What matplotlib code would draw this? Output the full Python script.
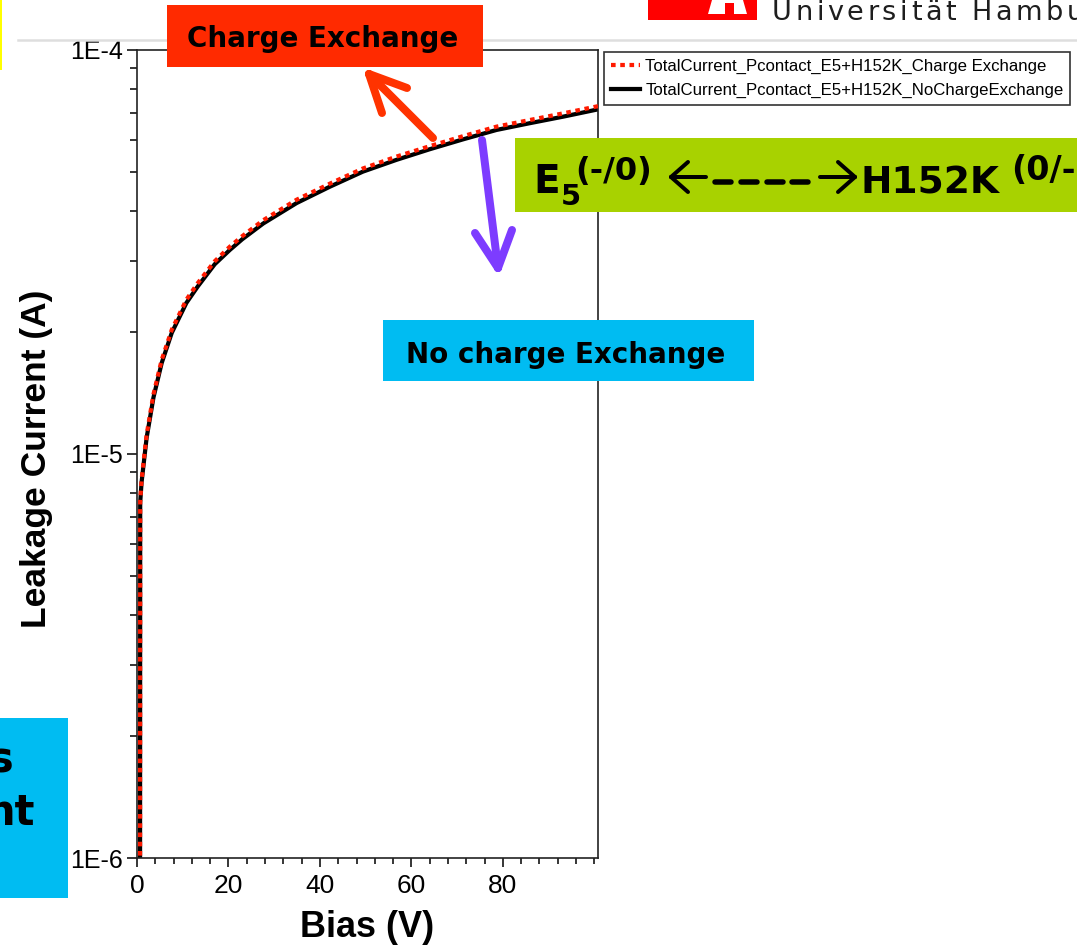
import numpy as np
import matplotlib
matplotlib.use("Agg")
import matplotlib.pyplot as plt
from matplotlib.lines import Line2D
from matplotlib.patches import Rectangle, Polygon
from matplotlib.ticker import FixedLocator, MultipleLocator, LogLocator, NullFormatter, FixedFormatter
from matplotlib.textpath import text_to_path
from matplotlib.font_manager import FontProperties

# ---------------- data ----------------
bias_v = [0.66, 0.70, 1.0, 1.4, 2.1, 3.6, 5.4, 7.6, 10.8, 13.3, 17.0, 20.3, 23.0,
          27.6, 34.9, 42.2, 49.4, 56.8, 64.0, 71.3, 78.6, 85.9, 93.2, 100.8]
current_no_ce = [5e-7, 7.59e-6, 8.51e-6, 9.33e-6, 1.096e-5, 1.38e-5, 1.68e-5, 1.995e-5,
                 2.366e-5, 2.60e-5, 2.95e-5, 3.20e-5, 3.40e-5, 3.72e-5, 4.18e-5, 4.59e-5,
                 5.00e-5, 5.35e-5, 5.68e-5, 6.01e-5, 6.34e-5, 6.59e-5, 6.84e-5, 7.13e-5]
current_ce = [5e-7, 7.62e-6, 8.62e-6, 9.48e-6, 1.115e-5, 1.405e-5, 1.71e-5, 2.03e-5,
              2.41e-5, 2.65e-5, 3.00e-5, 3.26e-5, 3.46e-5, 3.79e-5, 4.26e-5, 4.67e-5,
              5.09e-5, 5.45e-5, 5.78e-5, 6.12e-5, 6.46e-5, 6.71e-5, 6.97e-5, 7.26e-5]
series_labels = ["TotalCurrent_Pcontact_E5+H152K_Charge Exchange",
                 "TotalCurrent_Pcontact_E5+H152K_NoChargeExchange"]
x_ticks = [0, 20, 40, 60, 80]
y_ticks = [1e-6, 1e-5, 1e-4]
y_tick_labels = ["1E-6", "1E-5", "1E-4"]

W, H = 1077, 947
fig = plt.figure(figsize=(W / 100, H / 100), dpi=100)
fig.patch.set_facecolor("white")


def fx(x):
    return x / W


def fy(y):
    return 1 - y / H


def px2pt(p):
    return p * 72 / 100


# ---------------- axes ----------------
L, R, T, B = 137, 598, 50, 858
ax = fig.add_axes([fx(L), fy(B), (R - L) / W, (B - T) / H])
ax.set_yscale("log")
ax.set_xlim(0, 100.8)
ax.set_ylim(1e-6, 1e-4)

ax.plot(bias_v, current_no_ce, color="black", lw=px2pt(4.2), solid_joinstyle="round",
        label=series_labels[1], zorder=2)
ax.plot(bias_v, current_ce, color="#ff1a00", lw=px2pt(4.2), dashes=(1.1, 1.1),
        label=series_labels[0], zorder=3)

tickfont = "Liberation Sans"
ax.xaxis.set_major_locator(FixedLocator(x_ticks))
ax.xaxis.set_minor_locator(MultipleLocator(4))
ax.yaxis.set_major_locator(FixedLocator(y_ticks))
ax.yaxis.set_major_formatter(FixedFormatter(y_tick_labels))
ax.yaxis.set_minor_locator(LogLocator(base=10, subs=np.arange(2, 10)))
ax.yaxis.set_minor_formatter(NullFormatter())
ax.tick_params(axis="x", which="major", direction="out", length=px2pt(9), width=1.1,
               pad=5, labelsize=19, colors="black")
ax.tick_params(axis="x", which="minor", direction="out", length=px2pt(6), width=1.1)
ax.tick_params(axis="y", which="major", direction="out", length=px2pt(10), width=1.1,
               pad=3, labelsize=18)
ax.tick_params(axis="y", which="minor", direction="out", length=px2pt(7), width=1.1)
for lab in ax.get_xticklabels() + ax.get_yticklabels():
    lab.set_fontfamily(tickfont)
for s in ax.spines.values():
    s.set_linewidth(1.2)
    s.set_color("#222222")

ax.set_xlabel("Bias (V)", fontsize=26, fontweight="bold", family=tickfont, va="top")
ax.xaxis.set_label_coords((367 - L) / (R - L), -(910 - B) / (B - T))
ax.set_ylabel("Leakage Current (A)", fontsize=25.5, fontweight="bold", family=tickfont,
              va="center")
ax.yaxis.set_label_coords((37 - L) / (R - L), (B - 459) / (B - T))

# legend
handles = [Line2D([], [], color="#ff1a00", lw=px2pt(4.2), dashes=(1.1, 1.1)),
           Line2D([], [], color="black", lw=px2pt(4.2))]
leg = fig.legend(handles, series_labels, loc="upper left",
                 bbox_to_anchor=(fx(604), fy(52)), bbox_transform=fig.transFigure,
                 frameon=True, fancybox=False, shadow=False, framealpha=1,
                 edgecolor="#333333", borderpad=0.4, handlelength=1.75, handletextpad=0.3,
                 labelspacing=0.55, borderaxespad=0,
                 prop=FontProperties(family=tickfont, size=12.1))
leg.get_frame().set_linewidth(1.2)

# ---------------- slide decorations ----------------
# thin yellow bar top-left
fig.patches.append(Rectangle((fx(0), fy(70)), fx(2.5), 70 / H, transform=fig.transFigure,
                             facecolor="#ffff00", edgecolor="none", zorder=1))
# gray header line
fig.lines.append(Line2D([fx(18), fx(1077)], [fy(40), fy(40)], transform=fig.transFigure,
                        color="#dedede", lw=px2pt(2.5), zorder=0.5))
# university logo (red block + white gate)
fig.patches.append(Rectangle((fx(648), fy(20)), fx(757) - fx(648), 20 / H,
                             transform=fig.transFigure, facecolor="#ff0000",
                             edgecolor="none", zorder=1))
fig.patches.append(Polygon([(fx(712), fy(0)), (fx(743), fy(0)), (fx(747), fy(14)),
                            (fx(708), fy(14))], closed=True, transform=fig.transFigure,
                           facecolor="white", edgecolor="none", zorder=1.1))
fig.patches.append(Rectangle((fx(725), fy(14)), fx(734) - fx(725), 11 / H,
                             transform=fig.transFigure, facecolor="#ff0000",
                             edgecolor="none", zorder=1.2))
# "Universität Hamburg" with wide letter spacing
uprop = FontProperties(family="DejaVu Sans", size=19.5)
xpos = 772
for ch in "Universität Hamburg":
    fig.text(fx(xpos), fy(20), ch, fontproperties=uprop, color="#1e1e1e",
             ha="left", va="baseline", zorder=2)
    w, _, _ = text_to_path.get_text_width_height_descent(ch, uprop, ismath=False)
    xpos += w * 100 / 72 + 3.6

boxfont = "DejaVu Sans"
# red "Charge Exchange" box
fig.patches.append(Rectangle((fx(167), fy(67)), fx(483) - fx(167), 62 / H,
                             transform=fig.transFigure, facecolor="#ff2a00",
                             edgecolor="none", zorder=4))
fig.text(fx(323), fy(47), "Charge Exchange", fontsize=20, fontweight="bold",
         family=boxfont, ha="center", va="baseline", color="black", zorder=5)

# blue "No charge Exchange" box
fig.patches.append(Rectangle((fx(383), fy(381)), fx(754) - fx(383), 61 / H,
                             transform=fig.transFigure, facecolor="#00bcf2",
                             edgecolor="none", zorder=4))
fig.text(fx(566), fy(363), "No charge Exchange", fontsize=20, fontweight="bold",
         family=boxfont, ha="center", va="baseline", color="black", zorder=5)

# blue box bottom-left (cut-off)
fig.patches.append(Rectangle((fx(0), fy(898)), fx(68), 180 / H,
                             transform=fig.transFigure, facecolor="#00bcf2",
                             edgecolor="none", zorder=4))
fig.text(fx(14), fy(772), "s", fontsize=30, fontweight="bold", family=boxfont,
         ha="right", va="baseline", zorder=5)
fig.text(fx(35), fy(825), "nt", fontsize=30, fontweight="bold", family=boxfont,
         ha="right", va="baseline", zorder=5)

# green box with E5 <----> H152K
fig.patches.append(Rectangle((fx(515), fy(212)), fx(1077) - fx(515), 74 / H,
                             transform=fig.transFigure, facecolor="#a8d200",
                             edgecolor="none", zorder=4))
gk = dict(fontweight="bold", family=boxfont, color="black", zorder=5, va="baseline",
          ha="left")
fig.text(fx(533), fy(193), "E", fontsize=28, **gk)
fig.text(fx(561), fy(205), "5", fontsize=21, **gk)
fig.text(fx(575), fy(180), "(-/0)", fontsize=23, **gk)
fig.text(fx(860), fy(193), "H152K", fontsize=27, **gk)
fig.text(fx(1011), fy(180), "(0/-)", fontsize=24, **gk)


def seg(p0, p1, color, lw_px, z=6):
    fig.lines.append(Line2D([fx(p0[0]), fx(p1[0])], [fy(p0[1]), fy(p1[1])],
                            transform=fig.transFigure, color=color,
                            lw=px2pt(lw_px), solid_capstyle="round", zorder=z))


# left/right arrow glyphs and dashes drawn as strokes
seg((671, 177), (706, 177), "black", 4)
seg((671, 177), (688, 162), "black", 4)
seg((671, 177), (688, 192), "black", 4)
for x0 in [715, 741, 767, 792]:
    seg((x0, 182), (x0 + 16, 182), "black", 5.5)
seg((820, 177), (855, 177), "black", 4)
seg((855, 177), (838, 162), "black", 4)
seg((855, 177), (838, 192), "black", 4)


# arrows
def arrow(tail, tip, arm1, arm2, color):
    for a in (tail, arm1, arm2):
        seg(a, tip, color, 8)


arrow((433, 138), (369, 74), (382, 113), (407, 88), "#ff3300")
arrow((482, 140), (498, 268), (475, 233), (512, 230), "#7d3cff")

fig.savefig("out.png", dpi=100)
